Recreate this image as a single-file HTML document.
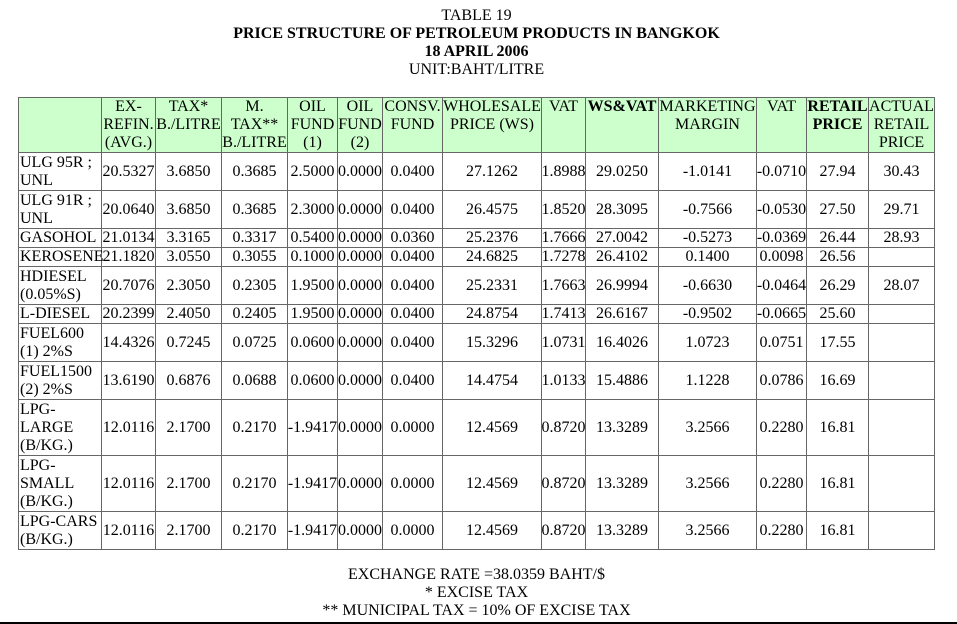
<!DOCTYPE html>
<html>
<head>
<meta charset="utf-8">
<style>
  html, body { margin:0; padding:0; background:#fff; }
  body { width:957px; height:624px; position:relative; overflow:hidden;
         font-family:"Liberation Serif", "Times New Roman", serif; font-size:16px; color:#000; }
  .t { position:absolute; left:0; width:953px; text-align:center; line-height:18px; white-space:nowrap; }
  .b { font-weight:bold; }
  .grid { position:absolute; left:18px; top:97px;
          border-left:1px solid #666; border-top:1px solid #666;
          display:grid;
          grid-template-columns:83px 54px 66px 66px 50px 45px 60px 99px 44px 73px 98px 50px 62px 66px;
          grid-template-rows:55px 38px 38px 19px 19px 38px 19px 38px 38px 56px 56px 38px; }
  .grid > div { box-sizing:border-box; border-right:1px solid #666; border-bottom:1px solid #666;
                line-height:18px; white-space:nowrap; display:flex; align-items:center;
                justify-content:center; text-align:center; overflow:visible; }
  .grid > div.h { background:#ccffcc; align-items:flex-start; }
  .grid > div.f { justify-content:flex-start; text-align:left; padding-left:1px; }
  .rule { position:absolute; left:0; top:622px; width:957px; height:2px; background:#000; }
</style>
</head>
<body>
<div class="t" style="top:7px;">TABLE 19</div>
<div class="t b" style="top:25px;">PRICE STRUCTURE OF PETROLEUM PRODUCTS IN BANGKOK</div>
<div class="t b" style="top:43px;">18 APRIL 2006</div>
<div class="t" style="top:61px;">UNIT:BAHT/LITRE</div>

<div class="grid">
  <div class="h"></div>
  <div class="h">EX-<br>REFIN.<br>(AVG.)</div>
  <div class="h">TAX*<br>B./LITRE</div>
  <div class="h">M.<br>TAX**<br>B./LITRE</div>
  <div class="h">OIL<br>FUND<br>(1)</div>
  <div class="h">OIL<br>FUND<br>(2)</div>
  <div class="h">CONSV.<br>FUND</div>
  <div class="h">WHOLESALE<br>PRICE (WS)</div>
  <div class="h">VAT</div>
  <div class="h b">WS&amp;VAT</div>
  <div class="h">MARKETING<br>MARGIN</div>
  <div class="h">VAT</div>
  <div class="h b">RETAIL<br>PRICE</div>
  <div class="h">ACTUAL<br>RETAIL<br>PRICE</div>

  <div class="f">ULG 95R ;<br>UNL</div><div>20.5327</div><div>3.6850</div><div>0.3685</div><div>2.5000</div><div>0.0000</div><div>0.0400</div><div>27.1262</div><div>1.8988</div><div>29.0250</div><div>-1.0141</div><div>-0.0710</div><div>27.94</div><div>30.43</div>

  <div class="f">ULG 91R ;<br>UNL</div><div>20.0640</div><div>3.6850</div><div>0.3685</div><div>2.3000</div><div>0.0000</div><div>0.0400</div><div>26.4575</div><div>1.8520</div><div>28.3095</div><div>-0.7566</div><div>-0.0530</div><div>27.50</div><div>29.71</div>

  <div class="f">GASOHOL</div><div>21.0134</div><div>3.3165</div><div>0.3317</div><div>0.5400</div><div>0.0000</div><div>0.0360</div><div>25.2376</div><div>1.7666</div><div>27.0042</div><div>-0.5273</div><div>-0.0369</div><div>26.44</div><div>28.93</div>

  <div class="f">KEROSENE</div><div>21.1820</div><div>3.0550</div><div>0.3055</div><div>0.1000</div><div>0.0000</div><div>0.0400</div><div>24.6825</div><div>1.7278</div><div>26.4102</div><div>0.1400</div><div>0.0098</div><div>26.56</div><div></div>

  <div class="f">HDIESEL<br>(0.05%S)</div><div>20.7076</div><div>2.3050</div><div>0.2305</div><div>1.9500</div><div>0.0000</div><div>0.0400</div><div>25.2331</div><div>1.7663</div><div>26.9994</div><div>-0.6630</div><div>-0.0464</div><div>26.29</div><div>28.07</div>

  <div class="f">L-DIESEL</div><div>20.2399</div><div>2.4050</div><div>0.2405</div><div>1.9500</div><div>0.0000</div><div>0.0400</div><div>24.8754</div><div>1.7413</div><div>26.6167</div><div>-0.9502</div><div>-0.0665</div><div>25.60</div><div></div>

  <div class="f">FUEL600<br>(1) 2%S</div><div>14.4326</div><div>0.7245</div><div>0.0725</div><div>0.0600</div><div>0.0000</div><div>0.0400</div><div>15.3296</div><div>1.0731</div><div>16.4026</div><div>1.0723</div><div>0.0751</div><div>17.55</div><div></div>

  <div class="f">FUEL1500<br>(2) 2%S</div><div>13.6190</div><div>0.6876</div><div>0.0688</div><div>0.0600</div><div>0.0000</div><div>0.0400</div><div>14.4754</div><div>1.0133</div><div>15.4886</div><div>1.1228</div><div>0.0786</div><div>16.69</div><div></div>

  <div class="f">LPG-<br>LARGE<br>(B/KG.)</div><div>12.0116</div><div>2.1700</div><div>0.2170</div><div>-1.9417</div><div>0.0000</div><div>0.0000</div><div>12.4569</div><div>0.8720</div><div>13.3289</div><div>3.2566</div><div>0.2280</div><div>16.81</div><div></div>

  <div class="f">LPG-<br>SMALL<br>(B/KG.)</div><div>12.0116</div><div>2.1700</div><div>0.2170</div><div>-1.9417</div><div>0.0000</div><div>0.0000</div><div>12.4569</div><div>0.8720</div><div>13.3289</div><div>3.2566</div><div>0.2280</div><div>16.81</div><div></div>

  <div class="f">LPG-CARS<br>(B/KG.)</div><div>12.0116</div><div>2.1700</div><div>0.2170</div><div>-1.9417</div><div>0.0000</div><div>0.0000</div><div>12.4569</div><div>0.8720</div><div>13.3289</div><div>3.2566</div><div>0.2280</div><div>16.81</div><div></div>
</div>

<div class="t" style="top:566px;">EXCHANGE RATE =38.0359 BAHT/$</div>
<div class="t" style="top:584px;">* EXCISE TAX</div>
<div class="t" style="top:602px;">** MUNICIPAL TAX = 10% OF EXCISE TAX</div>
<div class="rule"></div>
</body>
</html>
